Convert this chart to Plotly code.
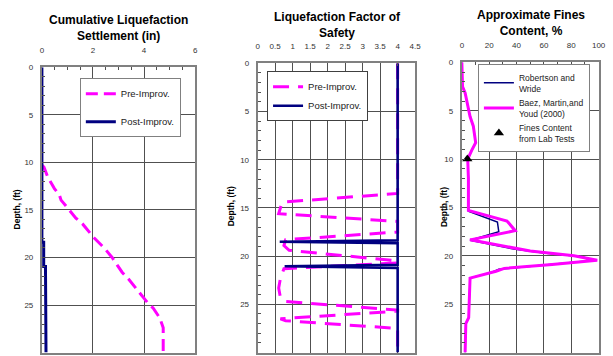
import plotly.graph_objects as go

# ---------------- data ----------------
# Panel 1: cumulative liquefaction settlement (in) vs depth (ft)
settle_pre_depth = [10.3, 10.5, 11.55, 12.3, 12.76, 13.4, 13.97, 15.0, 15.86, 16.5, 17.07, 17.93, 18.97, 20.0, 20.8, 21.55, 22.3, 22.93, 24.1, 24.8, 25.34, 26.38, 27.4, 30.0]
settle_pre = [0.0, 0.08, 0.23, 0.4, 0.49, 0.68, 0.75, 1.07, 1.33, 1.6, 1.78, 2.04, 2.43, 2.75, 2.95, 3.14, 3.4, 3.59, 3.97, 4.15, 4.36, 4.62, 4.75, 4.75]
settle_post_depth = [0.0, 18.4, 18.4, 20.95, 20.95, 30.0]
settle_post = [0.0, 0.0, 0.07, 0.07, 0.14, 0.16]

# Panel 2: liquefaction factor of safety vs depth (ft)
fs_pre_depth = [0.0, 13.5, 14.4, 15.6, 16.4, 17.5, 18.3, 18.9, 19.4, 20.5, 20.7, 21.3, 22.3, 23.3, 24.3, 24.7, 25.6, 25.7, 26.5, 26.7, 27.5, 30.0]
fs_pre = [4.0, 4.0, 0.7, 0.6, 4.0, 4.0, 0.8, 0.75, 0.9, 4.0, 4.0, 0.75, 0.65, 0.6, 0.65, 0.8, 4.0, 4.0, 0.65, 0.8, 4.0, 4.0]
fs_post_depth = [0.0, 18.35, 18.5, 18.65, 20.9, 21.05, 21.22, 30.0]
fs_post = [4.0, 4.0, 0.63, 4.0, 4.0, 0.77, 4.0, 4.0]

# Panel 3: approximate fines content (%) vs depth (ft)
fc_rw_depth = [0.0, 2.5, 3.17, 4.5, 5.6, 6.6, 7.4, 8.3, 9.1, 10.0, 12.0, 15.4, 16.5, 17.5, 18.4, 19.3, 19.7, 20.1, 20.45, 20.9, 21.4, 21.7, 22.3, 26.4, 27.0, 30.0]
fc_rw = [0.0, 0.5, 2.4, 4.1, 6.0, 8.4, 9.1, 10.1, 7.2, 4.3, 4.8, 4.8, 26.0, 27.0, 6.0, 38.0, 60.0, 88.0, 97.0, 62.0, 27.0, 22.0, 6.0, 5.0, 2.9, 2.4]
fc_baez_depth = [0.0, 2.5, 3.17, 4.5, 5.6, 6.6, 7.4, 8.3, 9.1, 10.0, 12.0, 15.3, 16.4, 17.4, 18.35, 19.0, 19.5, 20.0, 20.45, 20.9, 21.3, 21.6, 22.3, 26.4, 27.0, 30.0]
fc_baez = [0.0, 0.5, 2.4, 4.1, 6.0, 8.4, 9.1, 10.1, 7.2, 4.3, 4.8, 4.8, 33.0, 39.0, 6.0, 30.0, 50.0, 82.0, 99.0, 66.0, 31.0, 25.0, 6.0, 5.0, 2.9, 2.4]
fc_lab_depth = [10.0]
fc_lab = [4.0]

# tick settings
settle_ticks = [0, 2, 4, 6]
fs_ticks = [0, 0.5, 1, 1.5, 2, 2.5, 3, 3.5, 4, 4.5]
fc_ticks = [0, 20, 40, 60, 80, 100]
depth_ticks = [0, 5, 10, 15, 20, 25, 30]

# ---------------- layout helpers ----------------
W, H = 613, 356
FONT = "Liberation Sans, Arial, sans-serif"
MAGENTA = "#FF00FF"
NAVY = "#000080"


def px_x(p):
    return p / W


def px_y(p):
    return 1 - p / H


fig = go.Figure()

# Panel 1
fig.add_trace(go.Scatter(x=settle_pre, y=settle_pre_depth, mode="lines", name="Pre-Improv.",
                         line=dict(color=MAGENTA, width=3, dash="12px,6px"),
                         xaxis="x", yaxis="y", legend="legend", legendgroup="a"))
fig.add_trace(go.Scatter(x=settle_post, y=settle_post_depth, mode="lines", name="Post-Improv.",
                         line=dict(color=NAVY, width=3),
                         xaxis="x", yaxis="y", legend="legend", legendgroup="b"))
# Panel 2
fig.add_trace(go.Scatter(x=fs_pre, y=fs_pre_depth, mode="lines", name="Pre-Improv.",
                         line=dict(color=MAGENTA, width=3, dash="16px,9px"),
                         xaxis="x2", yaxis="y2", legend="legend2"))
fig.add_trace(go.Scatter(x=fs_post, y=fs_post_depth, mode="lines", name="Post-Improv.",
                         line=dict(color=NAVY, width=2.6),
                         xaxis="x2", yaxis="y2", legend="legend2"))
# Panel 3
fig.add_trace(go.Scatter(x=fc_rw, y=fc_rw_depth, mode="lines", name="Robertson and<br>Wride",
                         line=dict(color=NAVY, width=1.5),
                         xaxis="x3", yaxis="y3", legend="legend3"))
fig.add_trace(go.Scatter(x=fc_baez, y=fc_baez_depth, mode="lines", name="Baez, Martin,and<br>Youd (2000)",
                         line=dict(color=MAGENTA, width=3),
                         xaxis="x3", yaxis="y3", legend="legend3"))
fig.add_trace(go.Scatter(x=fc_lab, y=fc_lab_depth, mode="markers", name="Fines Content<br>from Lab Tests",
                         marker=dict(symbol="triangle-up", color="black", size=9),
                         xaxis="x3", yaxis="y3", legend="legend3"))

tickfont = dict(family=FONT, size=8, color="#333333")
FRAME = "#808080"
GRID = "#505050"


def xaxis(dom, rng, ticks, minor_dtick):
    d = dict(domain=dom, range=rng, side="top", tickvals=ticks, showgrid=True,
             gridcolor=GRID, gridwidth=1, showline=True, mirror=True, linecolor=FRAME,
             linewidth=2, ticks="inside", ticklen=3, tickcolor=GRID, tickfont=tickfont,
             ticklabelstandoff=9, zeroline=False, fixedrange=True)
    if minor_dtick:
        d["minor"] = dict(dtick=minor_dtick, ticks="inside", ticklen=3, tickcolor=GRID, showgrid=False)
    return d


def yaxis(dom, anchor):
    return dict(domain=dom, range=[30, 0], tickvals=depth_ticks, anchor=anchor, showgrid=True,
                gridcolor=GRID, gridwidth=1, showline=True, mirror=True, linecolor=FRAME,
                linewidth=2, ticks="inside", ticklen=3, tickcolor=GRID, tickfont=tickfont,
                ticklabelstandoff=5, zeroline=False, fixedrange=True,
                minor=dict(dtick=1, ticks="inside", ticklen=3, tickcolor=GRID, showgrid=False))


bottom = px_y(352.5)
legfont = dict(family=FONT, size=9.5, color="#222222")

fig.update_layout(
    width=W, height=H, margin=dict(l=0, r=0, t=0, b=0),
    paper_bgcolor="white", plot_bgcolor="white",
    font=dict(family=FONT),
    xaxis=xaxis([px_x(40.5), px_x(196)], [0, 6], settle_ticks, 0.5) | dict(anchor="y"),
    yaxis=yaxis([bottom, px_y(64)], "x"),
    xaxis2=xaxis([px_x(259.5), px_x(419.3)], [0, 4.5], fs_ticks, None) | dict(anchor="y2"),
    yaxis2=yaxis([bottom, px_y(60)], "x2"),
    xaxis3=xaxis([px_x(466.7), px_x(605.5)], [0, 100], fc_ticks, 10) | dict(anchor="y3"),
    yaxis3=yaxis([bottom, px_y(59)], "x3"),
    legend=dict(x=px_x(79), y=px_y(75), xanchor="left", yanchor="top", bgcolor="white",
                bordercolor=FRAME, borderwidth=1, font=legfont, tracegroupgap=9),
    legend2=dict(x=px_x(269), y=px_y(68), xanchor="left", yanchor="top", bgcolor="white",
                 bordercolor="#404040", borderwidth=1, font=legfont, tracegroupgap=0),
    legend3=dict(x=px_x(483), y=px_y(61), xanchor="left", yanchor="top", bgcolor="white",
                 bordercolor=FRAME, borderwidth=1, font=dict(family=FONT, size=8.5, color="#222222")),
    showlegend=True,
)

titlefont = dict(family=FONT, size=12, color="black")
annots = [
    dict(text="<b>Cumulative Liquefaction<br>Settlement (in)</b>", x=px_x(118), y=px_y(24)),
    dict(text="<b>Liquefaction Factor of<br>Safety</b>", x=px_x(340), y=px_y(21)),
    dict(text="<b>Approximate Fines<br>Content, %</b>", x=px_x(537), y=px_y(19.5)),
]
for a in annots:
    fig.add_annotation(xref="paper", yref="paper", showarrow=False, xanchor="center",
                       yanchor="middle", font=titlefont, **a)

for xp, yp in [(15, 208), (232, 205), (448, 205)]:
    fig.add_annotation(text="<b>Depth, (ft)</b>", xref="paper", yref="paper", x=px_x(xp), y=px_y(yp),
                       textangle=-90, showarrow=False, xanchor="center", yanchor="middle",
                       font=dict(family=FONT, size=8.5, color="black"))

fig.write_html("out.html", config={"displayModeBar": False},
               post_script="document.body.style.margin='0';document.body.style.overflow='hidden';")
